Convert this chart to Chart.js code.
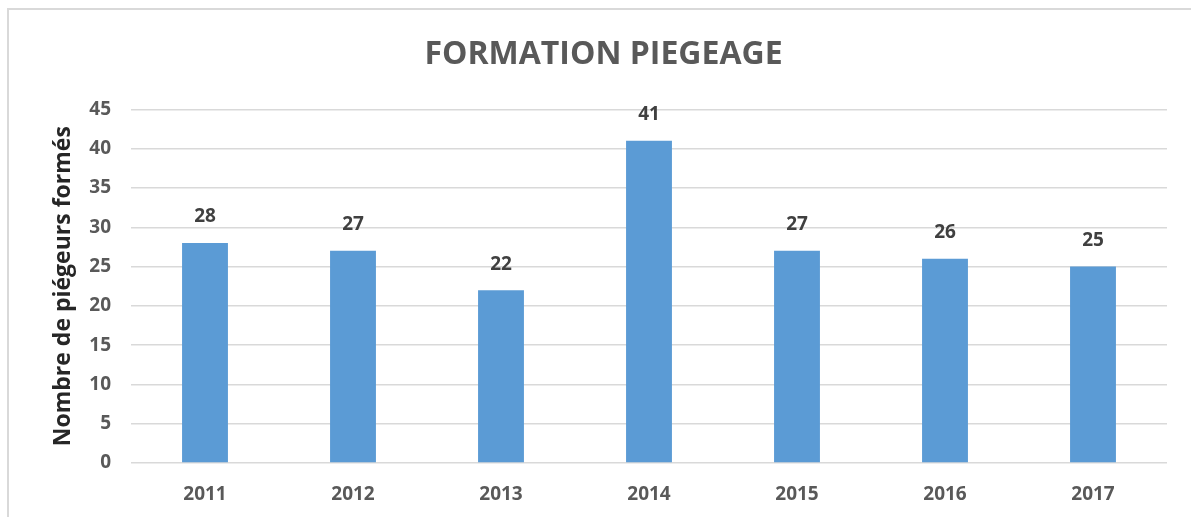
<!DOCTYPE html>
<html>
<head>
<meta charset="utf-8">
<script src="https://cdn.jsdelivr.net/npm/chart.js@4.4.0/dist/chart.umd.min.js"></script>
<style>
    html, body { margin: 0; padding: 0; background: #fff; overflow: hidden; }
    #cadre { position: absolute; left: 7px; top: 8px; width: 1300px; height: 600px; border: 2px solid #d9d9d9; }
    #zone { position: absolute; left: 0; top: 0; width: 1191px; height: 517px; }
</style>
</head>
<body>
<div id="cadre"></div>
<div id="zone"><canvas id="barraChart" width="1191" height="517"></canvas></div>
<script>
/* donnees du graphique */
const annees = ['2011', '2012', '2013', '2014', '2015', '2016', '2017'];
const piegeursFormes = [28, 27, 22, 41, 27, 26, 25];
const titreGraphique = 'FORMATION PIEGEAGE';
const titreAxeY = 'Nombre de piégeurs formés';
const maxAxeY = 45;
const pasAxeY = 5;

const POLICE = '"Open Sans", Lato, sans-serif';

// etiquettes de valeur au-dessus des barres
const etiquettesBarres = {
    id: 'etiquettesBarres',
    afterDatasetsDraw(chart) {
        const ctx = chart.ctx;
        const meta = chart.getDatasetMeta(0);
        ctx.save();
        ctx.font = 'bold 19px ' + POLICE;
        ctx.fillStyle = '#404040';
        ctx.textAlign = 'center';
        ctx.textBaseline = 'middle';
        meta.data.forEach((barre, i) => {
            ctx.fillText(chart.data.datasets[0].data[i], barre.x, barre.y - 26);
        });
        ctx.restore();
    }
};

const ctxBarra = document.getElementById('barraChart').getContext('2d');
const meuGrafico = new Chart(ctxBarra, {
    type: 'bar',
    data: {
        labels: annees,
        datasets: [{
            label: titreAxeY,
            data: piegeursFormes,
            backgroundColor: '#5b9bd5',
            barPercentage: 0.31,
            categoryPercentage: 1
        }]
    },
    options: {
        responsive: false,
        animation: false,
        layout: { padding: { left: 40, right: 24, top: 18, bottom: 0 } },
        plugins: {
            legend: { display: false },
            tooltip: { enabled: false },
            title: {
                display: true,
                text: titreGraphique,
                color: '#595959',
                font: { family: POLICE, size: 32, weight: 'bold' },
                padding: { top: 18, bottom: 35 }
            }
        },
        scales: {
            y: {
                min: 0,
                max: maxAxeY,
                ticks: { stepSize: pasAxeY, color: '#595959', padding: 20, font: { family: POLICE, size: 19, weight: 'bold' } },
                grid: { color: '#d9d9d9', lineWidth: 1.5, drawTicks: false },
                border: { display: false },
                title: {
                    display: true,
                    text: titreAxeY,
                    color: '#262626',
                    padding: { top: 10, bottom: 0 },
                    font: { family: POLICE, size: 23, weight: 'bold' }
                },
                afterFit: (s) => { s.width = 91; }
            },
            x: {
                ticks: { color: '#595959', padding: 20, font: { family: POLICE, size: 19, weight: 'bold' } },
                grid: { display: false, drawTicks: false },
                border: { display: false },
                afterFit: (s) => { s.height = 54; }
            }
        }
    },
    plugins: [etiquettesBarres]
});
</script>
</body>
</html>
